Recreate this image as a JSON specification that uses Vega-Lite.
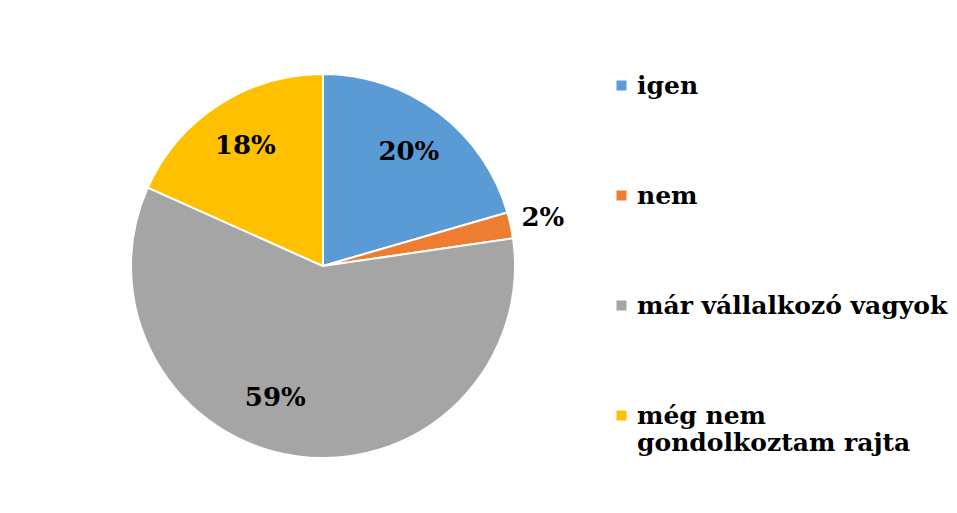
{
  "$schema": "https://vega.github.io/schema/vega-lite/v6.json",
  "width": 618,
  "height": 492,
  "autosize": {"type": "none"},
  "padding": {"left": 14, "top": 20, "right": 325, "bottom": 1},
  "background": "white",
  "config": {
    "view": {"stroke": null}
  },
  "data": {
    "values": [
      {"category": "igen", "value": 20.5, "pct": "20%", "order": 1},
      {"category": "nem", "value": 2.2, "pct": "2%", "order": 2},
      {"category": "már vállalkozó vagyok", "value": 59.0, "pct": "59%", "order": 3},
      {"category": "még nem gondolkoztam rajta", "value": 18.3, "pct": "18%", "order": 4}
    ]
  },
  "encoding": {
    "theta": {"field": "value", "type": "quantitative", "stack": true},
    "order": {"field": "order", "type": "quantitative"},
    "detail": {"field": "category", "type": "nominal"}
  },
  "layer": [
    {
      "mark": {"type": "arc", "outerRadius": 192, "stroke": "white", "strokeWidth": 2},
      "encoding": {
        "color": {
          "field": "category",
          "type": "nominal",
          "scale": {
            "domain": ["igen", "nem", "már vállalkozó vagyok", "még nem gondolkoztam rajta"],
            "range": ["#5B9BD5", "#ED7D31", "#A5A5A5", "#FFC000"]
          },
          "legend": {
            "title": null,
            "orient": "none",
            "legendX": 595,
            "legendY": 53,
            "symbolType": "square",
            "symbolSize": 100,
            "symbolStrokeWidth": 0,
            "labelFont": "DejaVu Serif",
            "labelFontWeight": "bold",
            "labelFontSize": 25,
            "labelColor": "black",
            "labelLimit": 400,
            "labelOffset": 3,
            "rowPadding": 84,
            "labelExpr": "datum.label == 'még nem gondolkoztam rajta' ? ['még nem', 'gondolkoztam rajta'] : datum.label",
            "encode": {"labels": {"update": {"lineHeight": {"value": 37}}}}
          }
        }
      }
    },
    {
      "mark": {"type": "text", "radius": 143, "font": "DejaVu Serif", "fontWeight": "bold", "fontSize": 26, "color": "black"},
      "encoding": {
        "text": {"condition": {"test": "datum.value >= 5 && datum.value < 50", "field": "pct", "type": "nominal"}, "value": ""}
      }
    },
    {
      "mark": {"type": "text", "radius": 143, "dx": -28, "dy": -10, "font": "DejaVu Serif", "fontWeight": "bold", "fontSize": 26, "color": "black"},
      "encoding": {
        "text": {"condition": {"test": "datum.value >= 50", "field": "pct", "type": "nominal"}, "value": ""}
      }
    },
    {
      "mark": {"type": "text", "radius": 225, "font": "DejaVu Serif", "fontWeight": "bold", "fontSize": 26, "color": "black"},
      "encoding": {
        "text": {"condition": {"test": "datum.value < 5", "field": "pct", "type": "nominal"}, "value": ""}
      }
    }
  ]
}
